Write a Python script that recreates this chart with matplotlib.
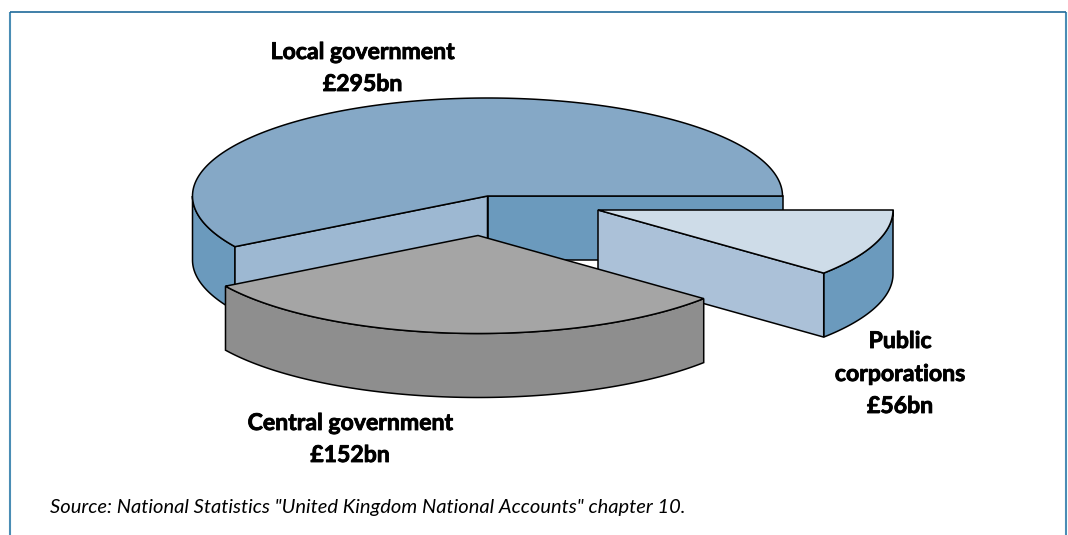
import numpy as np
import matplotlib
matplotlib.use("Agg")
import matplotlib.pyplot as plt
import matplotlib.patheffects as pe
from matplotlib.patches import Polygon

# Spending by sector, in GBP bn
sectors = ["Local government", "Central government", "Public corporations"]
values = [295, 152, 56]
label_lines = [["Local government", "£295bn"],
               ["Central government", "£152bn"],
               ["Public", "corporations", "£56bn"]]
source_text = 'Source: National Statistics "United Kingdom National Accounts" chapter 10.'

# pie geometry, in pixels
RX = 295
RY = 98
DEPTH = 64
LOCAL_C = (487.5, 196)
CENTRAL_C = (478, 235.5)
PUBLIC_C = (598, 210)

plt.rcParams["font.family"] = ["Lato", "DejaVu Sans"]

fig = plt.figure(figsize=(10.68, 5.35), dpi=100)
ax = fig.add_axes([0, 0, 1, 1])
ax.set_xlim(0, 1068)
ax.set_ylim(535, 0)
ax.axis("off")

# cumulative angles, going anticlockwise from 3 o'clock
edges = np.concatenate([[0], np.cumsum(values)]) / sum(values) * 360
local_a = (edges[0], edges[1])
central_a = (edges[1], edges[2])
public_a = (edges[2], edges[3])


def arc(c, a0, a1, dy=0):
    t = np.radians(np.linspace(a0, a1, 200))
    return np.column_stack([c[0] + RX * np.cos(t), c[1] + dy - RY * np.sin(t)])


def rim(c, a):
    t = np.radians(a)
    return (c[0] + RX * np.cos(t), c[1] - RY * np.sin(t))


def draw(pts, color, lw=1.1, z=1):
    ax.add_patch(Polygon(pts, closed=True, facecolor=color, edgecolor="black",
                         linewidth=lw, joinstyle="miter", zorder=z))


def top_face(c, a0, a1, color, z):
    draw(np.vstack([[c], arc(c, a0, a1)]), color, z=z)


def radial_wall(c, a, color, z):
    p = rim(c, a)
    draw([c, p, (p[0], p[1] + DEPTH), (c[0], c[1] + DEPTH)], color, z=z)


def outer_wall(c, a0, a1, color, z):
    draw(np.vstack([arc(c, a0, a1), arc(c, a1, a0, DEPTH)]), color, z=z)


# local government slice, back of the stack
outer_wall(LOCAL_C, 180, local_a[1], "#6b9abd", 1)
radial_wall(LOCAL_C, local_a[0], "#6b9abd", 2)
radial_wall(LOCAL_C, local_a[1], "#9db8d2", 3)
top_face(LOCAL_C, *local_a, "#85a8c6", 4)

# public corporations slice, pulled out to the right
outer_wall(PUBLIC_C, public_a[0], public_a[1], "#6b9abd", 5)
radial_wall(PUBLIC_C, public_a[0], "#abc1d8", 6)
top_face(PUBLIC_C, *public_a, "#cedce8", 7)

# central government slice, at the front
outer_wall(CENTRAL_C, central_a[0], central_a[1], "#8e8e8e", 8)
top_face(CENTRAL_C, *central_a, "#a5a5a5", 9)

# slice labels, one baseline per line, with a thin stroke to thicken the weight
label_pos = [(362.5, [59, 91]), (350, [430, 462]), (900, [348, 381, 413])]
for lines, (x, ys) in zip(label_lines, label_pos):
    for line, y in zip(lines, ys):
        ax.text(x, y, line, ha="center", va="baseline", fontsize=16.6,
                fontweight="bold", color="black", zorder=10,
                path_effects=[pe.withStroke(linewidth=0.6, foreground="black")])

ax.text(50, 513, source_text, ha="left", va="baseline", fontsize=14.5,
        style="italic", color="black", zorder=10)

# open-bottomed frame
ax.plot([10, 10], [535, 11.5], color="#4a8db5", lw=1.5, solid_capstyle="butt", zorder=0)
ax.plot([1065.5, 1065.5], [535, 11.5], color="#4a8db5", lw=1.5, solid_capstyle="butt", zorder=0)
ax.plot([9.5, 1066], [11.5, 11.5], color="#1f6a9a", lw=1.2, solid_capstyle="butt", zorder=0)

fig.savefig("out.png", dpi=100)
